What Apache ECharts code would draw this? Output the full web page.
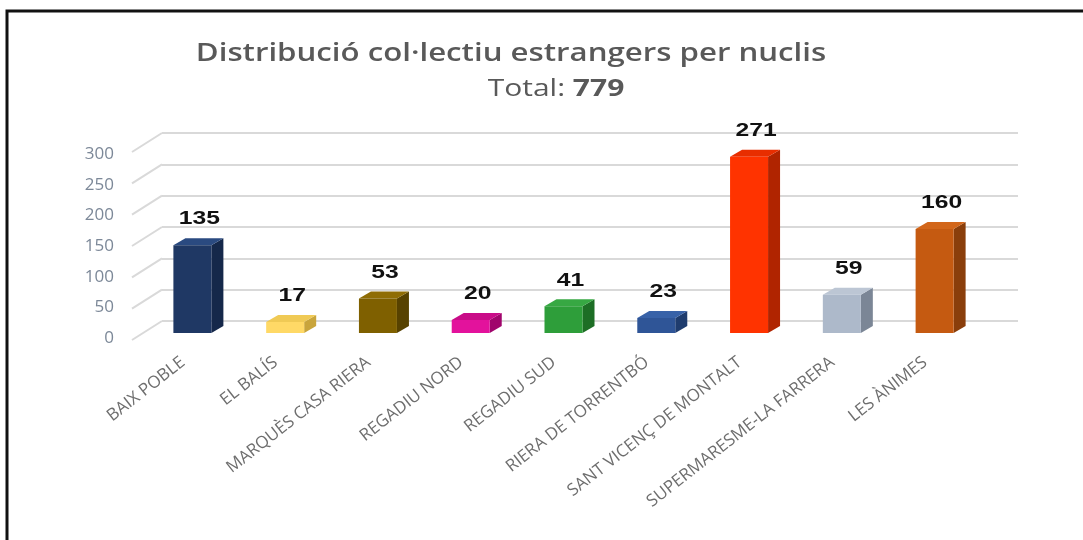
<!DOCTYPE html>
<html>
<head>
<meta charset="utf-8">
<title>Distribució col·lectiu estrangers per nuclis</title>
<script src="https://cdn.jsdelivr.net/npm/echarts@6/dist/echarts.min.js"></script>
<style>
  html, body { margin: 0; padding: 0; background: #fff; }
  #chart { width: 1083px; height: 540px; }
</style>
</head>
<body>
<div id="chart"></div>
<script>
// dades
var nuclis = ['BAIX POBLE', 'EL BALÍS', 'MARQUÈS CASA RIERA', 'REGADIU NORD', 'REGADIU SUD',
  'RIERA DE TORRENTBÓ', 'SANT VICENÇ DE MONTALT', 'SUPERMARESME-LA FARRERA', 'LES ÀNIMES'];
var estrangers = [135, 17, 53, 20, 41, 23, 271, 59, 160];
var yTicks = [0, 50, 100, 150, 200, 250, 300];
var total = 779;

// colors de cada barra: [cara davant, lateral, tapa]
var colors = [
  ['#1f3864', '#15284a', '#2a4a80'],
  ['#ffd966', '#c9a53c', '#f0ca55'],
  ['#7f6000', '#574200', '#8f6d05'],
  ['#e3129c', '#a0056c', '#c90c88'],
  ['#2e9e3a', '#1d6e25', '#37a843'],
  ['#2f5597', '#1f3c6e', '#3862a8'],
  ['#ff3300', '#b02400', '#e82e00'],
  ['#adb9ca', '#7b8696', '#bcc6d4'],
  ['#c55a11', '#8a3e0b', '#d2661a']
];

var chart = echarts.init(document.getElementById('chart'));

// caixa 3D per a cada barra
function renderBox(params, api) {
  var idx = api.value(0);
  var val = api.value(1);
  var base = api.coord([idx, 0]);
  var top = api.coord([idx, val]);
  var w = 38, dx = 12, dy = 7;
  var x0 = base[0] - w / 2, x1 = base[0] + w / 2;
  var c = colors[idx];
  return {
    type: 'group',
    children: [
      { type: 'polygon', shape: { points: [[x1, base[1]], [x1 + dx, base[1] - dy], [x1 + dx, top[1] - dy], [x1, top[1]]] }, style: { fill: c[1] } },
      { type: 'polygon', shape: { points: [[x0, top[1]], [x1, top[1]], [x1 + dx, top[1] - dy], [x0 + dx, top[1] - dy]] }, style: { fill: c[2] } },
      { type: 'rect', shape: { x: x0, y: top[1], width: w, height: base[1] - top[1] }, style: { fill: c[0] } },
      { type: 'text', x: base[0] + 7, y: top[1] - 26, scaleX: 1.3,
        style: { text: String(val), x: 0, y: 0, align: 'center', verticalAlign: 'middle',
          font: 'bold 19px "Liberation Sans", Arial, sans-serif', fill: '#111' } }
    ]
  };
}

// línies inclinades de la paret lateral
function renderSlant(params, api) {
  var p = api.coord([0, api.value(0)]);
  return {
    type: 'line',
    shape: { x1: p[0], y1: p[1], x2: p[0] - 30, y2: p[1] + 19 },
    style: { stroke: '#d9d9d9', lineWidth: 2 }
  };
}

chart.setOption({
  backgroundColor: '#fff',
  animation: false,
  graphic: [
    { type: 'polyline', shape: { points: [[7, 540], [7, 11], [1083, 11]] }, style: { stroke: '#111', lineWidth: 3, fill: null } },
    { type: 'text', x: 511, y: 54, scaleX: 1.2,
      style: { text: 'Distribució col·lectiu estrangers per nuclis', x: 0, y: 0, align: 'center', verticalAlign: 'middle',
        font: '600 26px "Open Sans", sans-serif', fill: '#595959' } },
    { type: 'text', x: 556, y: 89, scaleX: 1.25,
      style: { text: 'Total: {b|' + total + '}', x: 0, y: 0, align: 'center', verticalAlign: 'middle',
        font: '24px "Open Sans", sans-serif', fill: '#595959',
        rich: { b: { font: 'bold 24px "Open Sans", sans-serif', fill: '#595959' } } } }
  ],
  grid: [
    // paret del fons
    { left: 162, right: 65, top: 133, bottom: 219 },
    // barres
    { left: 146, right: 102, top: 138, bottom: 207 },
    // etiquetes eix y
    { left: 116, right: 900, top: 154, bottom: 202 }
  ],
  xAxis: [
    { gridIndex: 0, type: 'value', min: 0, max: 1, show: false },
    { gridIndex: 1, type: 'category', data: nuclis,
      axisLine: { show: false }, axisTick: { show: false },
      axisLabel: { interval: 0, rotate: 38, margin: 20, color: '#6e6e6e', padding: [0, 12, 0, 0],
        fontFamily: 'Open Sans', fontSize: 17 } },
    { gridIndex: 2, type: 'value', show: false }
  ],
  yAxis: [
    { gridIndex: 0, type: 'value', min: 0, max: 300, interval: 50,
      axisLine: { show: false }, axisTick: { show: false }, axisLabel: { show: false },
      splitLine: { lineStyle: { color: '#d9d9d9', width: 2 } } },
    { gridIndex: 1, type: 'value', min: 0, max: 300, interval: 50, show: false },
    { gridIndex: 2, type: 'value', min: 0, max: 300, interval: 50,
      axisLine: { show: false }, axisTick: { show: false }, splitLine: { show: false },
      axisLabel: { margin: 2, color: '#7c8898', fontFamily: 'Open Sans', fontSize: 17 } }
  ],
  series: [
    { type: 'custom', xAxisIndex: 0, yAxisIndex: 0, renderItem: renderSlant, data: yTicks.map(function (v) { return [v]; }),
      encode: { y: 0 } },
    { type: 'custom', xAxisIndex: 1, yAxisIndex: 1, renderItem: renderBox,
      data: estrangers.map(function (v, i) { return [i, v]; }), encode: { x: 0, y: 1 } }
  ]
});
</script>
</body>
</html>
